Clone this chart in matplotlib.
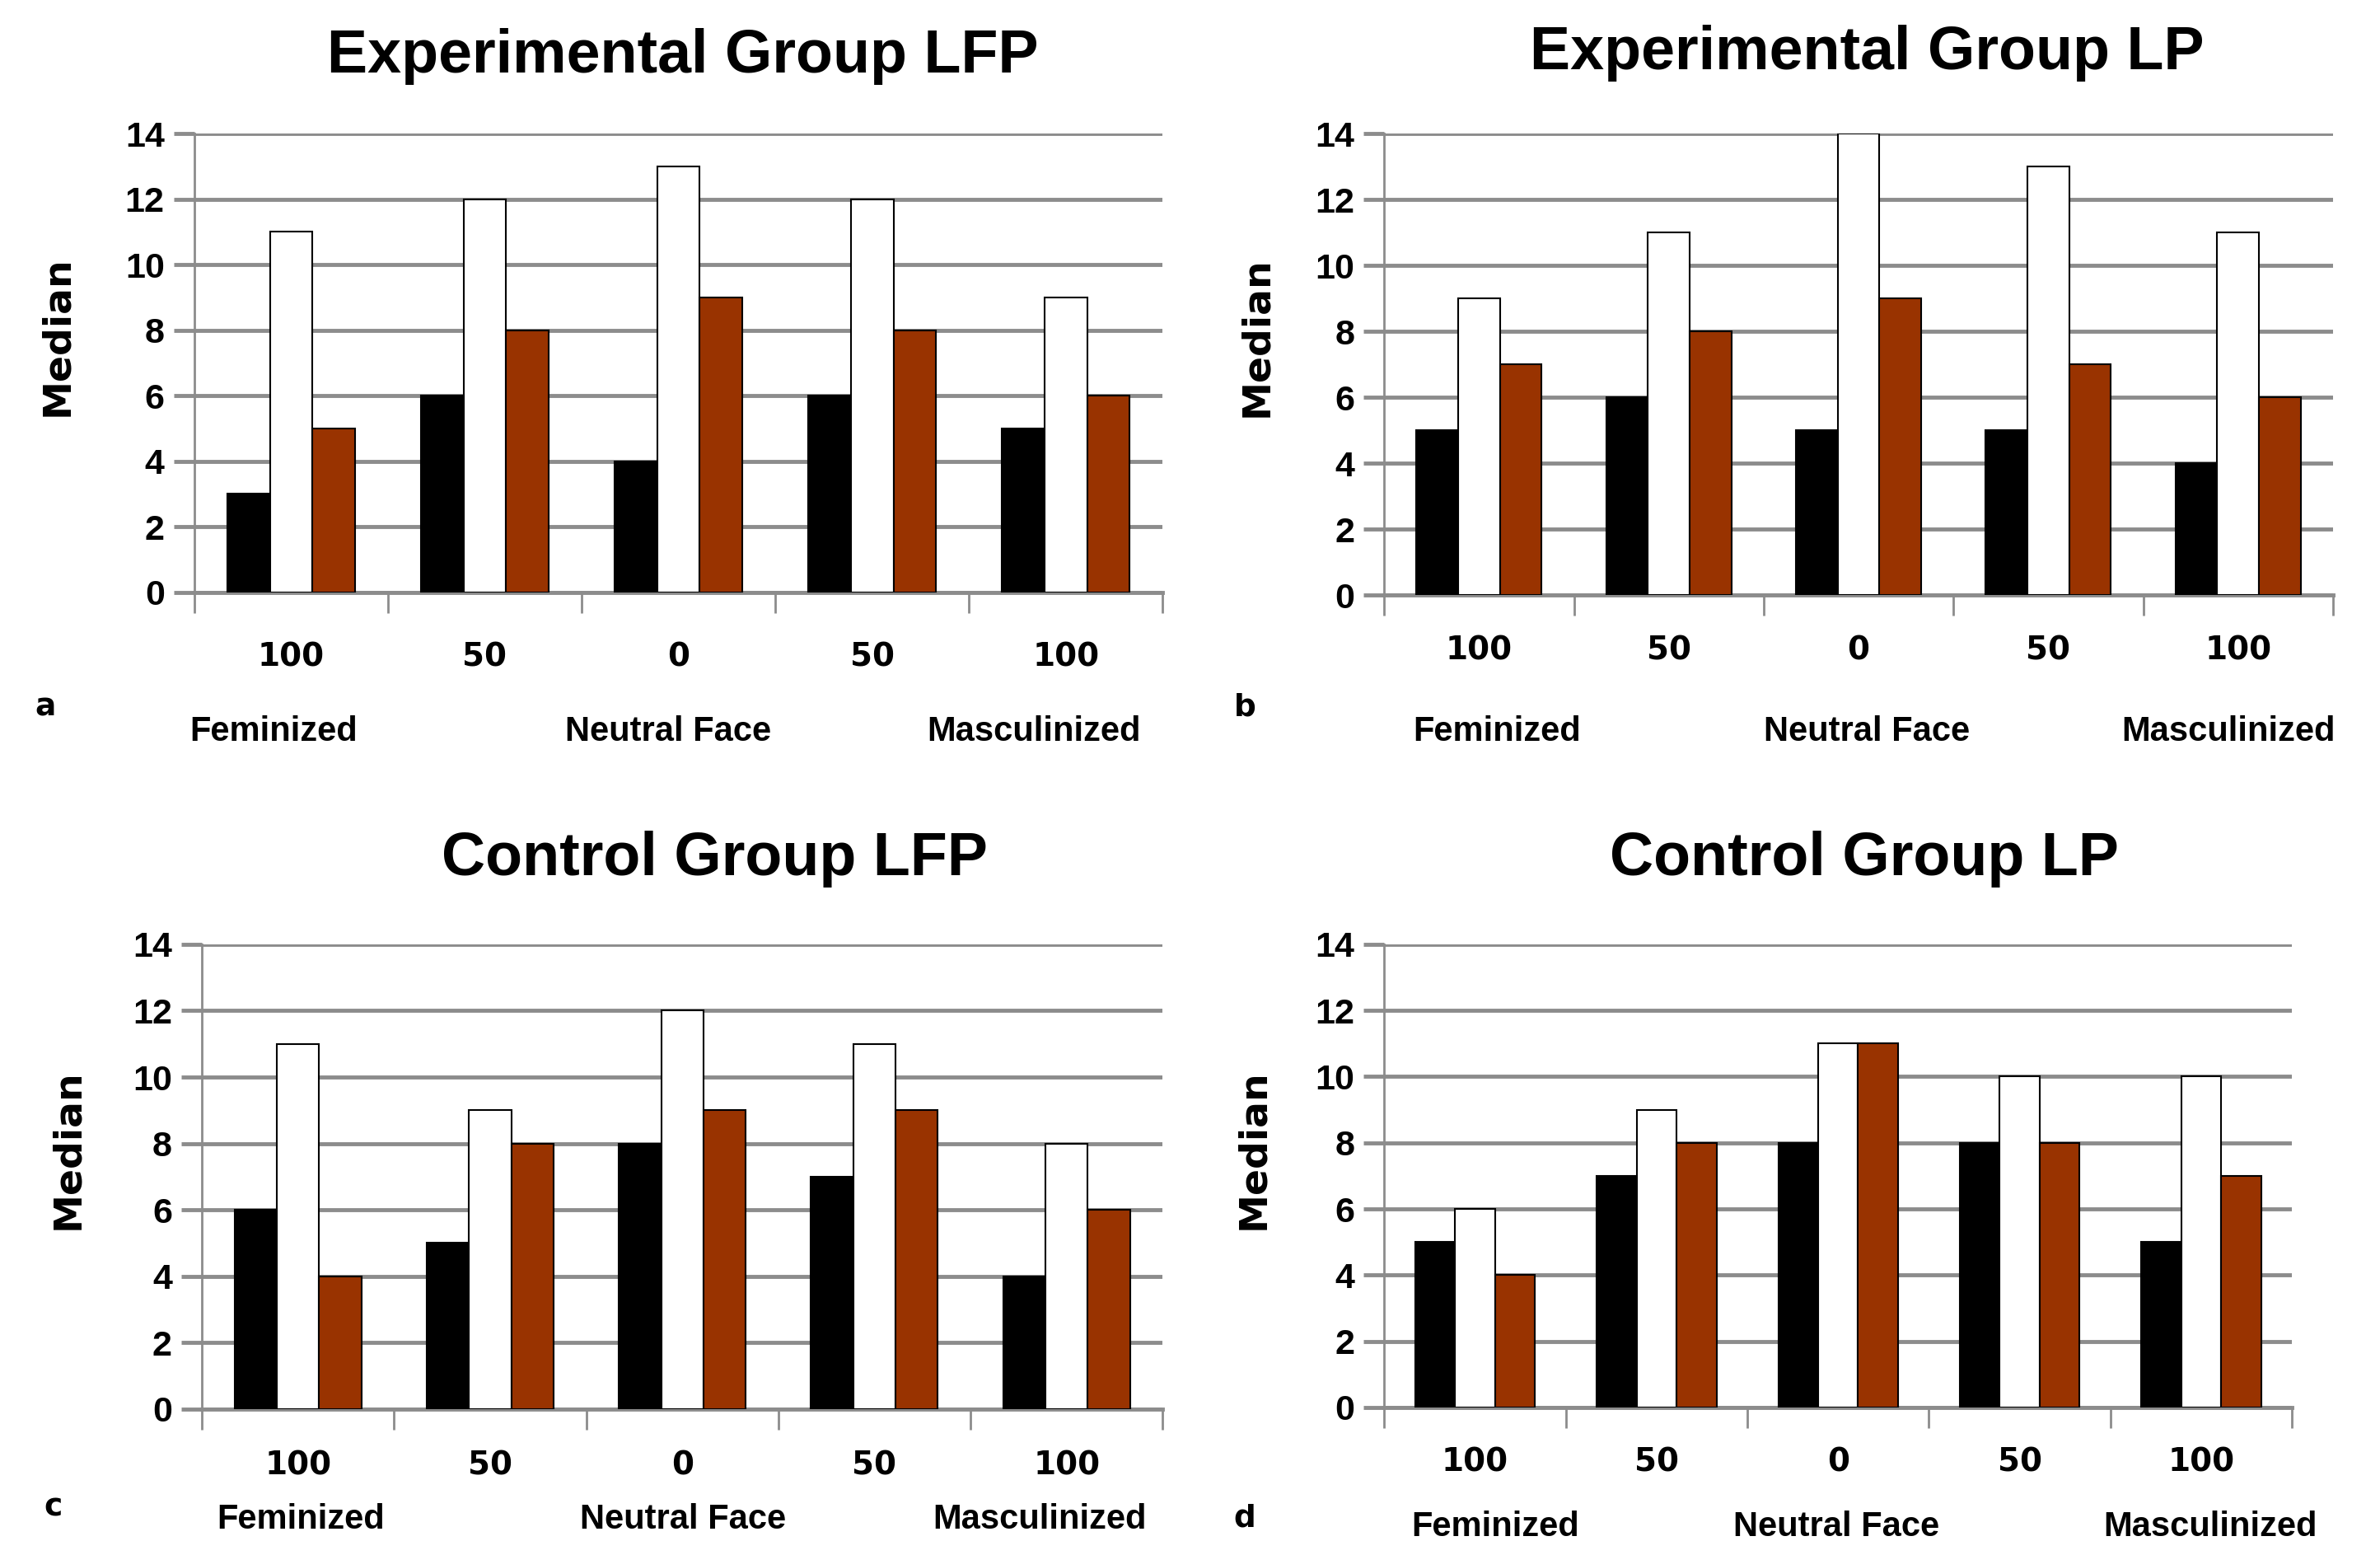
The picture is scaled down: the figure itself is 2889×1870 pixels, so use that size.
import matplotlib
matplotlib.use('Agg')
import matplotlib.pyplot as plt
import numpy as np

# data
categories = ['100', '50', '0', '50', '100']
sides = ['Feminized', 'Neutral Face', 'Masculinized']
titles = ['Experimental Group LFP', 'Experimental Group LP',
          'Control Group LFP', 'Control Group LP']
letters = ['a', 'b', 'c', 'd']

exp_lfp_black = [3, 6, 4, 6, 5]
exp_lfp_white = [11, 12, 13, 12, 9]
exp_lfp_brown = [5, 8, 9, 8, 6]

exp_lp_black = [5, 6, 5, 5, 4]
exp_lp_white = [9, 11, 14, 13, 11]
exp_lp_brown = [7, 8, 9, 7, 6]

ctl_lfp_black = [6, 5, 8, 7, 4]
ctl_lfp_white = [11, 9, 12, 11, 8]
ctl_lfp_brown = [4, 8, 9, 9, 6]

ctl_lp_black = [5, 7, 8, 8, 5]
ctl_lp_white = [6, 9, 11, 10, 10]
ctl_lp_brown = [4, 8, 11, 8, 7]

W, H = 1568.0, 1015.0   # coordinates measured on the shrunk image

def fx(x):
    return x / W

def fy(y):
    return 1 - y / H

GRID = '#8c8c8c'
BROWN = '#993300'
TITLE_FONT = ['Liberation Sans', 'DejaVu Sans']

# panel layout: axes box (left, right, top, bottom), title, median label, letter, side labels
panels = [
    dict(box=(128, 766, 88, 390), title=(450, 37), med=(38, 221), let=(30, 466),
         side_x=(180, 440, 681), side_y=482, pad=43,
         data=(exp_lfp_black, exp_lfp_white, exp_lfp_brown)),
    dict(box=(912, 1537, 88, 392), title=(1230, 35), med=(828, 222), let=(820, 466),
         side_x=(986, 1230, 1468), side_y=482, pad=35,
         data=(exp_lp_black, exp_lp_white, exp_lp_brown)),
    dict(box=(133, 766, 622, 928), title=(471, 566), med=(45, 757), let=(35, 993),
         side_x=(198, 450, 685), side_y=1001, pad=36,
         data=(ctl_lfp_black, ctl_lfp_white, ctl_lfp_brown)),
    dict(box=(912, 1510, 622, 927), title=(1228, 566), med=(826, 757), let=(820, 1000),
         side_x=(985, 1210, 1456), side_y=1006, pad=34,
         data=(ctl_lp_black, ctl_lp_white, ctl_lp_brown)),
]

fig = plt.figure(figsize=(28.89, 18.70), dpi=100)

x = np.arange(len(categories))
bw = 0.22

for i, p in enumerate(panels):
    l, r, t, b = p['box']
    ax = fig.add_axes([fx(l), fy(b), fx(r) - fx(l), fy(t) - fy(b)])
    black, white, brown = p['data']
    ax.bar(x - bw, black, bw, color='black', edgecolor='black', linewidth=1.5, zorder=3)
    ax.bar(x, white, bw, color='white', edgecolor='black', linewidth=1.5, zorder=3)
    ax.bar(x + bw, brown, bw, color=BROWN, edgecolor='black', linewidth=1.5, zorder=3)

    ax.set_xlim(-0.5, 4.5)
    ax.set_ylim(0, 14)
    ax.set_yticks(range(0, 15, 2))
    ax.yaxis.grid(True, color=GRID, linewidth=3.5, zorder=0)
    ax.set_axisbelow(True)
    for s in ['top', 'right']:
        ax.spines[s].set_visible(False)
    ax.spines['left'].set_color(GRID)
    ax.spines['left'].set_linewidth(2)
    ax.spines['bottom'].set_color(GRID)
    ax.spines['bottom'].set_linewidth(3.5)
    ax.tick_params(axis='y', length=18, width=3.5, color=GRID, pad=8,
                   labelsize=31)
    for lab in ax.get_yticklabels():
        lab.set_fontfamily(TITLE_FONT)
        lab.set_fontweight('bold')

    # boundaries between groups as major ticks, group names as minor ticks
    ax.set_xticks(np.arange(-0.5, 5, 1.0))
    ax.set_xticklabels([])
    ax.tick_params(axis='x', which='major', length=18, width=2, color=GRID)
    ax.set_xticks(x, minor=True)
    ax.set_xticklabels(categories, minor=True, fontsize=28, fontweight='bold',
                       family='DejaVu Sans')
    ax.tick_params(axis='x', which='minor', length=0, pad=p['pad'])

    tx, ty = p['title']
    fig.text(fx(tx), fy(ty), titles[i], ha='center', va='center', fontsize=53,
             fontweight='bold', family=TITLE_FONT)
    mx, my = p['med']
    fig.text(fx(mx), fy(my), 'Median', ha='center', va='center', rotation=90,
             fontsize=34, fontweight='bold', family='DejaVu Sans')
    lx, ly = p['let']
    fig.text(fx(lx), fy(ly), letters[i], ha='center', va='center', fontsize=27,
             fontweight='bold', family='DejaVu Sans')
    for sx, name in zip(p['side_x'], sides):
        fig.text(fx(sx), fy(p['side_y']), name, ha='center', va='center',
                 fontsize=30, fontweight='bold', family=TITLE_FONT)

fig.savefig('out.png', dpi=100)
